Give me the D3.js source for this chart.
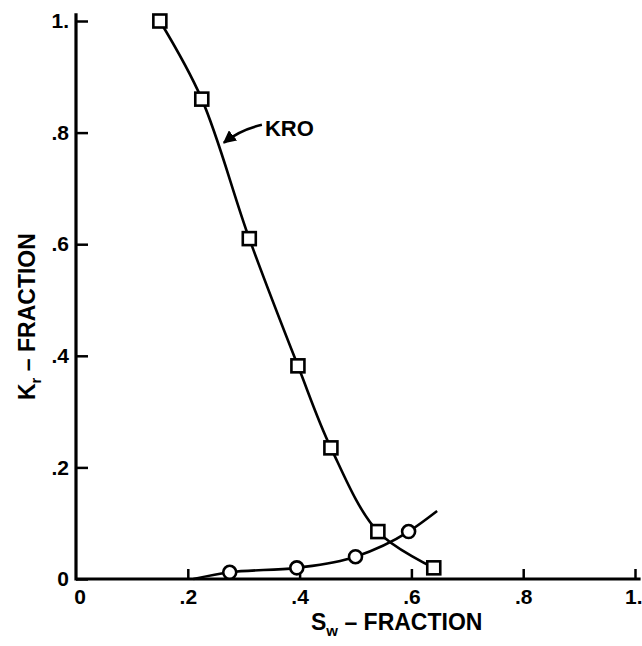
<!DOCTYPE html>
<html>
<head>
<meta charset="utf-8">
<script src="https://cdn.jsdelivr.net/npm/d3@7"></script>
<style>
  body { margin: 0; background: #fff; }
  svg { display: block; }
  text { font-family: "Liberation Sans", Arial, sans-serif; font-weight: bold; fill: #000; }
</style>
</head>
<body>
<div id="chart"></div>
<script>
// Relative permeability vs water saturation

// KRO - oil relative permeability (squares)
const kroSw = [0.15, 0.225, 0.31, 0.397, 0.456, 0.54, 0.64];
const kroKr = [1.0, 0.86, 0.61, 0.382, 0.235, 0.085, 0.02];

// KRW - water relative permeability (circles)
const krwSw = [0.275, 0.395, 0.50, 0.595];
const krwKr = [0.012, 0.02, 0.04, 0.085];
// ends of the drawn water curve (beyond the measured points)
const krwStart = [0.21, 0.0];
const krwEnd = [0.646, 0.122];

const tickValues = [0, 0.2, 0.4, 0.6, 0.8, 1.0];
const xTickLabels = ["0", ".2", ".4", ".6", ".8", "1."];
const yTickLabels = ["0", ".2", ".4", ".6", ".8", "1."];

const W = 642, H = 646;
const svg = d3.select("#chart").append("svg")
    .attr("width", W).attr("height", H);
svg.append("rect").attr("width", W).attr("height", H).attr("fill", "#fff");

const x = d3.scaleLinear().domain([0, 1]).range([76, 635]);
const y = d3.scaleLinear().domain([0, 1]).range([579, 21]);

// ==== axes ====
const xAxis = svg.append("g")
    .attr("transform", `translate(0,${y(0)})`)
    .call(d3.axisBottom(x).tickValues(tickValues.slice(1))
        .tickSizeInner(-10).tickSizeOuter(0).tickPadding(10)
        .tickFormat((d, i) => xTickLabels[i + 1]));
xAxis.select(".domain").remove();
xAxis.selectAll("line").attr("stroke", "#000").attr("stroke-width", 2.5);
xAxis.selectAll("text").attr("font-size", "21px").attr("dy", "0.71em").attr("fill", "#000");
// last label sits against the right edge, as in the scan
xAxis.selectAll("text").filter(d => d === 1).attr("text-anchor", "end").attr("dx", 7);

const yAxis = svg.append("g")
    .attr("transform", `translate(${x(0)},0)`)
    .call(d3.axisLeft(y).tickValues(tickValues)
        .tickSizeInner(-12).tickSizeOuter(0).tickPadding(7)
        .tickFormat((d, i) => yTickLabels[i]));
yAxis.select(".domain").remove();
yAxis.selectAll("line").attr("stroke", "#000").attr("stroke-width", 2.5);
yAxis.selectAll("text").attr("font-size", "21px").attr("fill", "#000");

// "0" under the origin
svg.append("text")
    .attr("x", x(0) + 4).attr("y", y(0) + 10)
    .attr("dy", "0.71em").attr("text-anchor", "middle")
    .attr("font-size", "21px").text(xTickLabels[0]);

// axis lines
svg.append("line")
    .attr("x1", x(0)).attr("x2", x(0))
    .attr("y1", y(0) + 1.5).attr("y2", y(1.014))
    .attr("stroke", "#000").attr("stroke-width", 3.2);
svg.append("line")
    .attr("x1", x(0)).attr("x2", x(1.01))
    .attr("y1", y(0)).attr("y2", y(0))
    .attr("stroke", "#000").attr("stroke-width", 3.2);

// axis titles
const xt = svg.append("text")
    .attr("x", 311).attr("y", 630)
    .attr("font-size", "23px");
xt.append("tspan").text("S");
xt.append("tspan").attr("font-size", "15px").attr("dy", 6).text("w");
xt.append("tspan").attr("dy", -6).text(" \u2013 FRACTION");

const yt = svg.append("text")
    .attr("transform", "translate(35,400) rotate(-90)")
    .attr("font-size", "23px");
yt.append("tspan").text("K");
yt.append("tspan").attr("font-size", "15px").attr("dy", 6).text("r");
yt.append("tspan").attr("dy", -6).text(" \u2013 FRACTION");

// ==== curves ====
const kroLine = d3.line()
    .x(d => x(d[0])).y(d => y(d[1]))
    .curve(d3.curveCatmullRom.alpha(0.5));
const krwLine = d3.line()
    .x(d => x(d[0])).y(d => y(d[1]))
    .curve(d3.curveMonotoneX);

const kroPts = kroSw.map((s, i) => [s, kroKr[i]]);
const krwPts = krwSw.map((s, i) => [s, krwKr[i]]);

svg.append("path")
    .attr("d", kroLine(kroPts))
    .attr("fill", "none").attr("stroke", "#000").attr("stroke-width", 2.6);

svg.append("path")
    .attr("d", krwLine([krwStart, ...krwPts, krwEnd]))
    .attr("fill", "none").attr("stroke", "#000").attr("stroke-width", 2.6);

// markers
const sq = 13;
svg.append("g").selectAll("rect")
    .data(kroPts)
    .join("rect")
    .attr("x", d => x(d[0]) - sq / 2).attr("y", d => y(d[1]) - sq / 2)
    .attr("width", sq).attr("height", sq)
    .attr("fill", "#fff").attr("stroke", "#000").attr("stroke-width", 2.6);

svg.append("g").selectAll("circle")
    .data(krwPts)
    .join("circle")
    .attr("cx", d => x(d[0])).attr("cy", d => y(d[1]))
    .attr("r", 6.5)
    .attr("fill", "#fff").attr("stroke", "#000").attr("stroke-width", 2.6);

// ==== KRO label with arrow ====
const tip = [x(0.261), y(0.78)];
svg.append("defs").append("marker")
    .attr("id", "ah").attr("viewBox", "0 0 10 10")
    .attr("refX", 9).attr("refY", 5)
    .attr("markerWidth", 5).attr("markerHeight", 5)
    .attr("orient", "auto")
    .append("path").attr("d", "M0,0 L10,5 L0,10 Z").attr("fill", "#000");

svg.append("path")
    .attr("d", `M${tip[0] + 40},${tip[1] - 19} Q${tip[0] + 18},${tip[1] - 14} ${tip[0] + 2},${tip[1] - 1}`)
    .attr("fill", "none").attr("stroke", "#000").attr("stroke-width", 2.6)
    .attr("marker-end", "url(#ah)");

svg.append("text")
    .attr("x", tip[0] + 43).attr("y", tip[1] - 8)
    .attr("font-size", "22px").text("KRO");
</script>
</body>
</html>
